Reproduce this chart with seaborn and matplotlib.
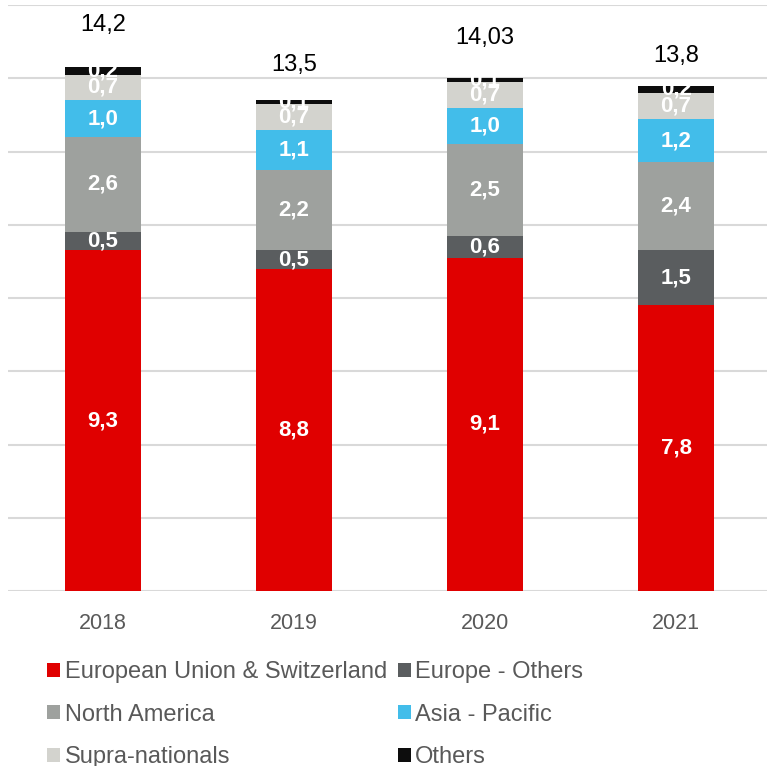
import matplotlib
matplotlib.use("Agg")
import matplotlib.pyplot as plt
import seaborn as sns
import numpy as np
from matplotlib.patches import Patch

years = ["2018", "2019", "2020", "2021"]
eu_switzerland = [9.3, 8.8, 9.1, 7.8]
europe_others = [0.5, 0.5, 0.6, 1.5]
north_america = [2.6, 2.2, 2.5, 2.4]
asia_pacific = [1.0, 1.1, 1.0, 1.2]
supra_nationals = [0.7, 0.7, 0.7, 0.7]
others = [0.2, 0.1, 0.1, 0.2]
totals = ["14,2", "13,5", "14,03", "13,8"]

series_names = ["European Union & Switzerland", "Europe - Others", "North America",
                "Asia - Pacific", "Supra-nationals", "Others"]
series_values = [eu_switzerland, europe_others, north_america,
                 asia_pacific, supra_nationals, others]
colors = ["#E00000", "#5A5D5F", "#9EA19E", "#42BDEA", "#D3D3CE", "#0D0D0D"]

sns.set_theme(style="white")
plt.rcParams["font.family"] = ["Liberation Sans", "DejaVu Sans"]

fig = plt.figure(figsize=(7.67, 7.66), dpi=100)
ax = fig.add_axes([8 / 767, 1 - 591 / 766, 759 / 767, 586 / 766])

bottom = np.zeros(len(years))
for name, vals, col in zip(series_names, series_values, colors):
    vals = np.asarray(vals, dtype=float)
    sns.barplot(x=years, y=vals, bottom=bottom, color=col, width=0.4,
                saturation=1, ax=ax, label=name, zorder=3, linewidth=0)
    for i, v in enumerate(vals):
        ax.text(i, bottom[i] + v / 2, f"{v:.1f}".replace(".", ","),
                ha="center", va="center", color="white", fontsize=16,
                fontweight="bold", zorder=5)
    bottom = bottom + vals

# total labels above each stack
label_offsets = [1.15, 0.95, 1.10, 0.80]
for i, t in enumerate(totals):
    ax.text(i, bottom[i] + label_offsets[i], t, ha="center", va="center",
            fontsize=17, color="black")

ax.set_ylim(0, 16)
ax.set_xlim(-0.497, 3.476)
ax.set_yticks(np.arange(0, 17, 2))
ax.yaxis.grid(True, color="#D9D9D9", linewidth=1.5, zorder=0)
ax.set_axisbelow(True)
ax.tick_params(axis="y", left=False, labelleft=False)
ax.tick_params(axis="x", bottom=False, labelsize=15.5, labelcolor="#595959", pad=10)
for s in ax.spines.values():
    s.set_visible(False)
ax.set_xlabel("")
ax.set_ylabel("")
if ax.get_legend() is not None:
    ax.get_legend().remove()

handles = [Patch(facecolor=c, edgecolor="none") for c in colors]
order = [0, 2, 4, 1, 3, 5]
fig.legend([handles[k] for k in order], [series_names[k] for k in order],
           ncol=2, loc="upper left", bbox_to_anchor=(47 / 767, 1 - 661 / 766),
           frameon=False, fontsize=17, labelcolor="#595959",
           handlelength=0.55, handleheight=0.55, handletextpad=0.2,
           columnspacing=0.45, labelspacing=0.87, borderpad=0, borderaxespad=0)

fig.savefig("out.png", dpi=100)
